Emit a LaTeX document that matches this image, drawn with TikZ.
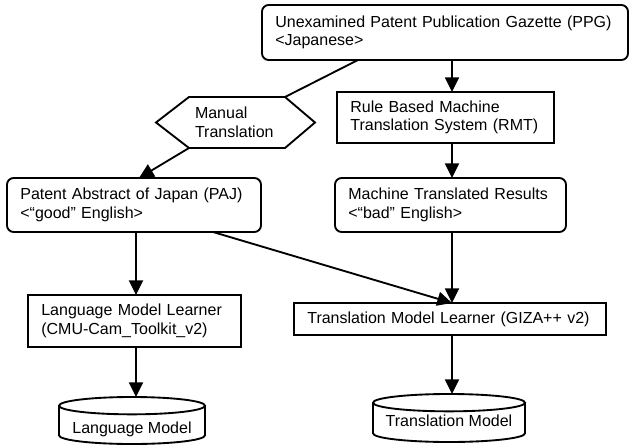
\documentclass[tikz,border=0pt]{standalone}
\usepackage{fontspec}
\setmainfont{Liberation Sans}
\usetikzlibrary{arrows.meta}

\tikzset{
  box/.style={draw, line width=1.4pt, align=left, inner xsep=10pt, inner ysep=2pt, outer sep=0pt},
  roundbox/.style={box, rounded corners=5pt},
  plain/.style={align=left, inner xsep=4.5pt, inner ysep=2pt, outer sep=0pt},
  drum/.style={outer sep=0pt, inner sep=0pt},
  arr/.style={-{Triangle[length=11pt,width=10.5pt]}, line width=1.4pt},
  link/.style={line width=1.4pt}
}

\begin{document}
\begin{tikzpicture}[x=0.75pt, y=-0.75pt, every node/.style={font=\fontsize{12}{14}\selectfont}]
  \useasboundingbox (0,0) rectangle (630,445);

  % column guides for the vertical arrows
  \coordinate (lc) at (136,0);
  \coordinate (rc) at (452,0);

  % source gazette
  \node[roundbox, minimum width=274.5pt, minimum height=41.25pt, text width=254.5pt] (ppg) at (445,32.5)
    {Unexamined Patent Publication Gazette (PPG)\\<Japanese>};

  % manual translation (hexagon drawn round the node)
  \node[plain, minimum width=72pt, minimum height=38.25pt, text width=63pt] (manual) at (237,122.5)
    {Manual\\Translation};
  \draw[link] (manual.north west) -- (manual.north east) -- ([xshift=22.5pt]manual.east)
    -- (manual.south east) -- (manual.south west) -- ([xshift=-24.75pt]manual.west) -- cycle;

  % rule based MT
  \node[box, minimum width=162.75pt, minimum height=38.25pt, text width=142.75pt] (rmt) at (445.5,117.5)
    {Rule Based Machine\\Translation System (RMT)};

  % second row
  \node[roundbox, minimum width=190.5pt, minimum height=40.5pt, text width=170.5pt] (paj) at (134,205)
    {Patent Abstract of Japan (PAJ)\\<“good” English>};
  \node[roundbox, minimum width=173.25pt, minimum height=40.5pt, text width=153.25pt] (mtr) at (450.5,205)
    {Machine Translated Results\\<“bad” English>};

  % learners
  \node[box, minimum width=159.75pt, minimum height=39pt, text width=139.75pt] (lml) at (134.5,321)
    {Language Model Learner\\(CMU-Cam\_Toolkit\_v2)};
  \node[box, minimum width=234pt, minimum height=24pt, text width=214pt] (tml) at (450,319)
    {Translation Model Learner (GIZA++ v2)};

  % models (cylinders)
  \node[drum, minimum width=109.5pt, text height=27pt, text depth=8.25pt] (lm) at (132,420.5) {Language Model};
  \node[drum, minimum width=114pt, text height=24pt, text depth=12pt] (tm) at (449,418) {Translation Model};
  \draw[link] ([yshift=-6.5pt]lm.north west) arc[start angle=180, end angle=540, x radius=54.75pt, y radius=6.5pt]
    -- ([yshift=6.5pt]lm.south west) arc[start angle=180, end angle=360, x radius=54.75pt, y radius=6.5pt]
    -- ([yshift=-6.5pt]lm.north east);
  \draw[link] ([yshift=-6.5pt]tm.north west) arc[start angle=180, end angle=540, x radius=57pt, y radius=6.5pt]
    -- ([yshift=6.5pt]tm.south west) arc[start angle=180, end angle=360, x radius=57pt, y radius=6.5pt]
    -- ([yshift=-6.5pt]tm.north east);

  % connectors
  \draw[link] ([xshift=-65.25pt]ppg.south) -- (manual.north east);
  \draw[arr] (manual.south west) -- ([xshift=3.75pt]paj.north);
  \draw[arr] (ppg.south -| rc) -- (rmt.north -| rc);
  \draw[arr] (rmt.south -| rc) -- (mtr.north -| rc);
  \draw[arr] (mtr.south -| rc) -- (tml.north -| rc);
  \draw[arr] (tml.south -| rc) -- (tm.north -| rc);
  \draw[arr] (paj.south -| lc) -- (lml.north -| lc);
  \draw[arr] (lml.south -| lc) -- (lm.north -| lc);
  \draw[arr] ([xshift=59.25pt]paj.south) -- (tml.north -| rc);
\end{tikzpicture}
\end{document}
